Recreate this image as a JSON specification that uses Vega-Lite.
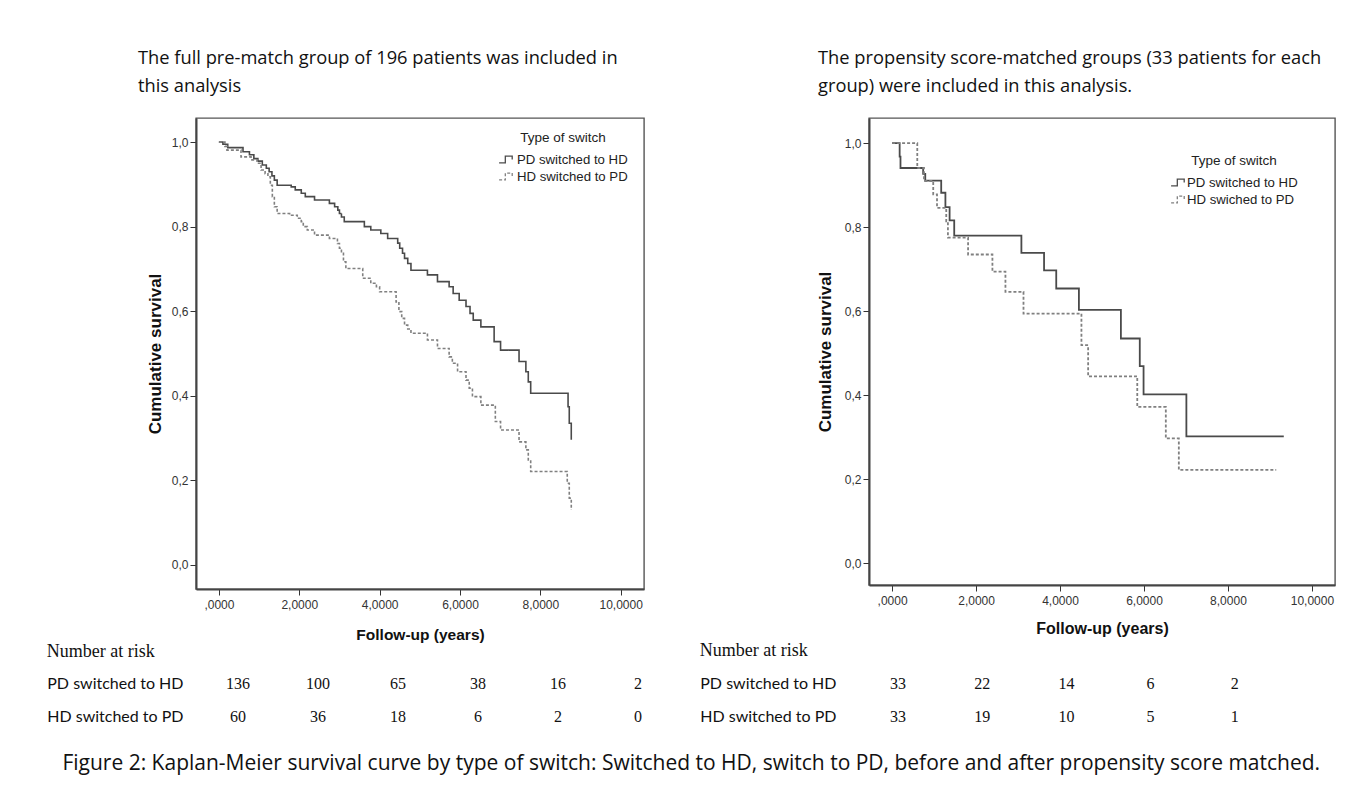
{
  "$schema": "https://vega.github.io/schema/vega-lite/v6.json",
  "background": "white",
  "padding": {"left": 46, "top": 48, "right": 10, "bottom": 10},
  "datasets": {
    "km_left": [
      {"group": "PD switched to HD", "t": 0, "s": 1.0},
      {"group": "PD switched to HD", "t": 0.10, "s": 0.995},
      {"group": "PD switched to HD", "t": 0.22, "s": 0.987},
      {"group": "PD switched to HD", "t": 0.60, "s": 0.977},
      {"group": "PD switched to HD", "t": 0.76, "s": 0.970},
      {"group": "PD switched to HD", "t": 0.87, "s": 0.961},
      {"group": "PD switched to HD", "t": 0.97, "s": 0.955},
      {"group": "PD switched to HD", "t": 1.08, "s": 0.946},
      {"group": "PD switched to HD", "t": 1.18, "s": 0.938},
      {"group": "PD switched to HD", "t": 1.25, "s": 0.930},
      {"group": "PD switched to HD", "t": 1.32, "s": 0.920},
      {"group": "PD switched to HD", "t": 1.38, "s": 0.910},
      {"group": "PD switched to HD", "t": 1.45, "s": 0.898},
      {"group": "PD switched to HD", "t": 1.80, "s": 0.894},
      {"group": "PD switched to HD", "t": 1.90, "s": 0.887},
      {"group": "PD switched to HD", "t": 2.05, "s": 0.879},
      {"group": "PD switched to HD", "t": 2.15, "s": 0.871},
      {"group": "PD switched to HD", "t": 2.38, "s": 0.863},
      {"group": "PD switched to HD", "t": 2.75, "s": 0.855},
      {"group": "PD switched to HD", "t": 2.88, "s": 0.847},
      {"group": "PD switched to HD", "t": 2.96, "s": 0.839},
      {"group": "PD switched to HD", "t": 3.00, "s": 0.831},
      {"group": "PD switched to HD", "t": 3.05, "s": 0.823},
      {"group": "PD switched to HD", "t": 3.12, "s": 0.812},
      {"group": "PD switched to HD", "t": 3.62, "s": 0.800},
      {"group": "PD switched to HD", "t": 3.78, "s": 0.792},
      {"group": "PD switched to HD", "t": 4.03, "s": 0.784},
      {"group": "PD switched to HD", "t": 4.20, "s": 0.772},
      {"group": "PD switched to HD", "t": 4.45, "s": 0.761},
      {"group": "PD switched to HD", "t": 4.50, "s": 0.749},
      {"group": "PD switched to HD", "t": 4.57, "s": 0.737},
      {"group": "PD switched to HD", "t": 4.62, "s": 0.725},
      {"group": "PD switched to HD", "t": 4.70, "s": 0.713},
      {"group": "PD switched to HD", "t": 4.78, "s": 0.697},
      {"group": "PD switched to HD", "t": 5.19, "s": 0.686},
      {"group": "PD switched to HD", "t": 5.44, "s": 0.670},
      {"group": "PD switched to HD", "t": 5.73, "s": 0.658},
      {"group": "PD switched to HD", "t": 5.83, "s": 0.642},
      {"group": "PD switched to HD", "t": 5.98, "s": 0.626},
      {"group": "PD switched to HD", "t": 6.15, "s": 0.611},
      {"group": "PD switched to HD", "t": 6.25, "s": 0.595},
      {"group": "PD switched to HD", "t": 6.33, "s": 0.579},
      {"group": "PD switched to HD", "t": 6.52, "s": 0.563},
      {"group": "PD switched to HD", "t": 6.85, "s": 0.528},
      {"group": "PD switched to HD", "t": 7.01, "s": 0.508},
      {"group": "PD switched to HD", "t": 7.47, "s": 0.481},
      {"group": "PD switched to HD", "t": 7.64, "s": 0.457},
      {"group": "PD switched to HD", "t": 7.70, "s": 0.433},
      {"group": "PD switched to HD", "t": 7.76, "s": 0.406},
      {"group": "PD switched to HD", "t": 8.69, "s": 0.374},
      {"group": "PD switched to HD", "t": 8.72, "s": 0.335},
      {"group": "PD switched to HD", "t": 8.77, "s": 0.296},
      {"group": "HD switched to PD", "t": 0, "s": 1.0},
      {"group": "HD switched to PD", "t": 0.15, "s": 0.990},
      {"group": "HD switched to PD", "t": 0.20, "s": 0.981},
      {"group": "HD switched to PD", "t": 0.55, "s": 0.965},
      {"group": "HD switched to PD", "t": 0.80, "s": 0.958},
      {"group": "HD switched to PD", "t": 0.95, "s": 0.950},
      {"group": "HD switched to PD", "t": 1.05, "s": 0.934},
      {"group": "HD switched to PD", "t": 1.15, "s": 0.925},
      {"group": "HD switched to PD", "t": 1.22, "s": 0.918},
      {"group": "HD switched to PD", "t": 1.28, "s": 0.898},
      {"group": "HD switched to PD", "t": 1.33, "s": 0.871},
      {"group": "HD switched to PD", "t": 1.38, "s": 0.847},
      {"group": "HD switched to PD", "t": 1.45, "s": 0.831},
      {"group": "HD switched to PD", "t": 1.76, "s": 0.827},
      {"group": "HD switched to PD", "t": 1.95, "s": 0.820},
      {"group": "HD switched to PD", "t": 2.05, "s": 0.812},
      {"group": "HD switched to PD", "t": 2.10, "s": 0.800},
      {"group": "HD switched to PD", "t": 2.20, "s": 0.792},
      {"group": "HD switched to PD", "t": 2.38, "s": 0.780},
      {"group": "HD switched to PD", "t": 2.75, "s": 0.772},
      {"group": "HD switched to PD", "t": 2.95, "s": 0.760},
      {"group": "HD switched to PD", "t": 3.00, "s": 0.749},
      {"group": "HD switched to PD", "t": 3.05, "s": 0.737},
      {"group": "HD switched to PD", "t": 3.10, "s": 0.717},
      {"group": "HD switched to PD", "t": 3.16, "s": 0.701},
      {"group": "HD switched to PD", "t": 3.58, "s": 0.678},
      {"group": "HD switched to PD", "t": 3.78, "s": 0.666},
      {"group": "HD switched to PD", "t": 3.92, "s": 0.658},
      {"group": "HD switched to PD", "t": 4.00, "s": 0.646},
      {"group": "HD switched to PD", "t": 4.41, "s": 0.622},
      {"group": "HD switched to PD", "t": 4.48, "s": 0.599},
      {"group": "HD switched to PD", "t": 4.55, "s": 0.583},
      {"group": "HD switched to PD", "t": 4.62, "s": 0.567},
      {"group": "HD switched to PD", "t": 4.70, "s": 0.558},
      {"group": "HD switched to PD", "t": 4.78, "s": 0.548},
      {"group": "HD switched to PD", "t": 5.19, "s": 0.532},
      {"group": "HD switched to PD", "t": 5.44, "s": 0.512},
      {"group": "HD switched to PD", "t": 5.73, "s": 0.492},
      {"group": "HD switched to PD", "t": 5.81, "s": 0.477},
      {"group": "HD switched to PD", "t": 5.94, "s": 0.457},
      {"group": "HD switched to PD", "t": 6.15, "s": 0.437},
      {"group": "HD switched to PD", "t": 6.23, "s": 0.418},
      {"group": "HD switched to PD", "t": 6.31, "s": 0.398},
      {"group": "HD switched to PD", "t": 6.52, "s": 0.378},
      {"group": "HD switched to PD", "t": 6.88, "s": 0.339},
      {"group": "HD switched to PD", "t": 7.01, "s": 0.319},
      {"group": "HD switched to PD", "t": 7.47, "s": 0.291},
      {"group": "HD switched to PD", "t": 7.64, "s": 0.272},
      {"group": "HD switched to PD", "t": 7.70, "s": 0.248},
      {"group": "HD switched to PD", "t": 7.76, "s": 0.221},
      {"group": "HD switched to PD", "t": 8.67, "s": 0.193},
      {"group": "HD switched to PD", "t": 8.72, "s": 0.158},
      {"group": "HD switched to PD", "t": 8.77, "s": 0.130}
    ],
    "km_right": [
      {"group": "PD switched to HD", "t": 0, "s": 1.0},
      {"group": "PD switched to HD", "t": 0.18, "s": 0.968},
      {"group": "PD switched to HD", "t": 0.20, "s": 0.941},
      {"group": "PD switched to HD", "t": 0.74, "s": 0.927},
      {"group": "PD switched to HD", "t": 0.79, "s": 0.911},
      {"group": "PD switched to HD", "t": 1.17, "s": 0.882},
      {"group": "PD switched to HD", "t": 1.27, "s": 0.848},
      {"group": "PD switched to HD", "t": 1.37, "s": 0.816},
      {"group": "PD switched to HD", "t": 1.48, "s": 0.780},
      {"group": "PD switched to HD", "t": 3.08, "s": 0.739},
      {"group": "PD switched to HD", "t": 3.62, "s": 0.697},
      {"group": "PD switched to HD", "t": 3.91, "s": 0.654},
      {"group": "PD switched to HD", "t": 4.45, "s": 0.603},
      {"group": "PD switched to HD", "t": 5.45, "s": 0.535},
      {"group": "PD switched to HD", "t": 5.90, "s": 0.469},
      {"group": "PD switched to HD", "t": 5.99, "s": 0.402},
      {"group": "PD switched to HD", "t": 7.01, "s": 0.302},
      {"group": "PD switched to HD", "t": 9.33, "s": 0.302},
      {"group": "HD switched to PD", "t": 0, "s": 1.0},
      {"group": "HD switched to PD", "t": 0.60, "s": 0.941},
      {"group": "HD switched to PD", "t": 0.76, "s": 0.910},
      {"group": "HD switched to PD", "t": 0.98, "s": 0.878},
      {"group": "HD switched to PD", "t": 1.07, "s": 0.846},
      {"group": "HD switched to PD", "t": 1.29, "s": 0.814},
      {"group": "HD switched to PD", "t": 1.33, "s": 0.775},
      {"group": "HD switched to PD", "t": 1.81, "s": 0.735},
      {"group": "HD switched to PD", "t": 2.39, "s": 0.694},
      {"group": "HD switched to PD", "t": 2.70, "s": 0.646},
      {"group": "HD switched to PD", "t": 3.13, "s": 0.594},
      {"group": "HD switched to PD", "t": 4.51, "s": 0.519},
      {"group": "HD switched to PD", "t": 4.67, "s": 0.445},
      {"group": "HD switched to PD", "t": 5.84, "s": 0.372},
      {"group": "HD switched to PD", "t": 6.52, "s": 0.297},
      {"group": "HD switched to PD", "t": 6.83, "s": 0.222},
      {"group": "HD switched to PD", "t": 9.15, "s": 0.222}
    ],
    "risk_left": [
      {"group": "PD switched to HD", "t": 0, "n": 136},
      {"group": "PD switched to HD", "t": 2, "n": 100},
      {"group": "PD switched to HD", "t": 4, "n": 65},
      {"group": "PD switched to HD", "t": 6, "n": 38},
      {"group": "PD switched to HD", "t": 8, "n": 16},
      {"group": "PD switched to HD", "t": 10, "n": 2},
      {"group": "HD switched to PD", "t": 0, "n": 60},
      {"group": "HD switched to PD", "t": 2, "n": 36},
      {"group": "HD switched to PD", "t": 4, "n": 18},
      {"group": "HD switched to PD", "t": 6, "n": 6},
      {"group": "HD switched to PD", "t": 8, "n": 2},
      {"group": "HD switched to PD", "t": 10, "n": 0}
    ],
    "risk_right": [
      {"group": "PD switched to HD", "t": 0, "n": 33},
      {"group": "PD switched to HD", "t": 2, "n": 22},
      {"group": "PD switched to HD", "t": 4, "n": 14},
      {"group": "PD switched to HD", "t": 6, "n": 6},
      {"group": "PD switched to HD", "t": 8, "n": 2},
      {"group": "HD switched to PD", "t": 0, "n": 33},
      {"group": "HD switched to PD", "t": 2, "n": 19},
      {"group": "HD switched to PD", "t": 4, "n": 10},
      {"group": "HD switched to PD", "t": 6, "n": 5},
      {"group": "HD switched to PD", "t": 8, "n": 1}
    ]
  },
  "hconcat": [
    {
      "spacing": -1,
      "vconcat": [
        {
          "width": 448,
          "height": 471,
          "title": {"text": ["The full pre-match group of 196 patients was included in", "this analysis"], "anchor": "start", "frame": "group", "dx": -58, "offset": 22, "font": "Open Sans", "fontSize": 18.3, "fontWeight": "normal", "color": "#111", "lineHeight": 28},
          "data": {"name": "km_left"},
          "mark": {"type": "line", "interpolate": "step-after", "strokeWidth": 1.6},
          "encoding": {
            "x": {"field": "t", "type": "quantitative", "scale": {"domain": [-0.57, 10.58], "nice": false, "zero": false},
              "axis": {"values": [0, 2, 4, 6, 8, 10], "title": "Follow-up (years)", "labelExpr": "datum.value == 0 ? ',0000' : replace(format(datum.value, '.4f'), '.', ',')", "grid": false, "labelFont": "Liberation Sans", "labelFontSize": 12, "labelColor": "#333", "tickColor": "#333", "tickSize": 6, "domainColor": "#444", "domainWidth": 2, "titleFont": "Liberation Sans", "titleFontSize": 15.5, "titleFontWeight": "bold", "titleColor": "#111", "titlePadding": 17, "labelPadding": 4}},
            "y": {"field": "s", "type": "quantitative", "scale": {"domain": [-0.057, 1.057], "nice": false, "zero": false},
              "axis": {"values": [0, 0.2, 0.4, 0.6, 0.8, 1.0], "title": "Cumulative survival", "labelExpr": "replace(format(datum.value, '.1f'), '.', ',')", "grid": false, "labelFont": "Liberation Sans", "labelFontSize": 12, "labelColor": "#333", "tickColor": "#333", "tickSize": 6, "domainColor": "#444", "domainWidth": 2, "titleFont": "Liberation Sans", "titleFontSize": 17, "titleFontWeight": "bold", "titleColor": "#111", "titlePadding": 7, "labelPadding": 2}},
            "color": {"field": "group", "type": "nominal", "scale": {"domain": ["PD switched to HD", "HD switched to PD"], "range": ["#4a4a4a", "#808080"]},
              "legend": {"title": "Type of switch", "orient": "none", "legendX": 302, "legendY": 13, "titleAnchor": "middle", "titleFont": "Liberation Sans", "titleFontSize": 13.5, "titleFontWeight": "normal", "titleColor": "#222", "titlePadding": 7, "labelFont": "Liberation Sans", "labelFontSize": 13.2, "labelColor": "#222", "symbolType": "M-1,0.5H-0.1V-0.5H0.9V0", "symbolSize": 190, "symbolStrokeWidth": 1.3, "symbolFillColor": "transparent", "rowPadding": 2, "labelOffset": 3}},
            "strokeDash": {"field": "group", "type": "nominal", "scale": {"domain": ["PD switched to HD", "HD switched to PD"], "range": [[1, 0], [3, 2]]}, "legend": {"title": "Type of switch"}}
          }
        },
        {
          "width": 448,
          "height": 66,
          "view": {"stroke": null},
          "title": {"text": "Number at risk", "anchor": "start", "frame": "bounds", "offset": 6, "font": "Liberation Serif", "fontSize": 18, "fontWeight": "normal", "color": "#111"},
          "data": {"name": "risk_left"},
          "mark": {"type": "text", "font": "Liberation Serif", "fontSize": 16, "color": "#111"},
          "encoding": {
            "x": {"field": "t", "type": "quantitative", "scale": {"domain": [-1.05, 10.15], "nice": false, "zero": false}, "axis": null},
            "y": {"field": "group", "type": "nominal", "sort": ["PD switched to HD", "HD switched to PD"], "scale": {"type": "point", "padding": 0.5},
              "axis": {"title": null, "ticks": false, "domain": false, "labelFont": "Lato", "labelFontSize": 16, "labelColor": "#111", "labelPadding": 13}},
            "text": {"field": "n", "type": "quantitative"}
          }
        }
      ]
    },
    {
      "spacing": 5,
      "vconcat": [
        {
          "width": 466,
          "height": 467,
          "title": {"text": ["The propensity score-matched groups (33 patients for each", "group) were included in this analysis."], "anchor": "start", "frame": "group", "dx": -51, "offset": 22, "font": "Open Sans", "fontSize": 18.3, "fontWeight": "normal", "color": "#111", "lineHeight": 28},
          "data": {"name": "km_right"},
          "mark": {"type": "line", "interpolate": "step-after", "strokeWidth": 1.8},
          "encoding": {
            "x": {"field": "t", "type": "quantitative", "scale": {"domain": [-0.55, 10.55], "nice": false, "zero": false},
              "axis": {"values": [0, 2, 4, 6, 8, 10], "title": "Follow-up (years)", "labelExpr": "datum.value == 0 ? ',0000' : replace(format(datum.value, '.4f'), '.', ',')", "grid": false, "labelFont": "Liberation Sans", "labelFontSize": 12, "labelColor": "#333", "tickColor": "#333", "tickSize": 6, "domainColor": "#444", "domainWidth": 2, "titleFont": "Liberation Sans", "titleFontSize": 16, "titleFontWeight": "bold", "titleColor": "#111", "titlePadding": 14, "labelPadding": 4}},
            "y": {"field": "s", "type": "quantitative", "scale": {"domain": [-0.052, 1.06], "nice": false, "zero": false},
              "axis": {"values": [0, 0.2, 0.4, 0.6, 0.8, 1.0], "title": "Cumulative survival", "labelExpr": "replace(format(datum.value, '.1f'), '.', ',')", "grid": false, "labelFont": "Liberation Sans", "labelFontSize": 12, "labelColor": "#333", "tickColor": "#333", "tickSize": 6, "domainColor": "#444", "domainWidth": 2, "titleFont": "Liberation Sans", "titleFontSize": 17, "titleFontWeight": "bold", "titleColor": "#111", "titlePadding": 10, "labelPadding": 2}},
            "color": {"field": "group", "type": "nominal", "scale": {"domain": ["PD switched to HD", "HD switched to PD"], "range": ["#4a4a4a", "#808080"]},
              "legend": {"title": "Type of switch", "orient": "none", "legendX": 301, "legendY": 36, "titleAnchor": "middle", "titleFont": "Liberation Sans", "titleFontSize": 13.5, "titleFontWeight": "normal", "titleColor": "#222", "titlePadding": 7, "labelFont": "Liberation Sans", "labelFontSize": 13.2, "labelColor": "#222", "symbolType": "M-1,0.5H-0.1V-0.5H0.9V0", "symbolSize": 190, "symbolStrokeWidth": 1.3, "symbolFillColor": "transparent", "rowPadding": 2, "labelOffset": 1, "labelExpr": "datum.label == 'HD switched to PD' ? 'HD swiched to PD' : datum.label"}},
            "strokeDash": {"field": "group", "type": "nominal", "scale": {"domain": ["PD switched to HD", "HD switched to PD"], "range": [[1, 0], [3, 2]]}, "legend": {"title": "Type of switch", "labelExpr": "datum.label == 'HD switched to PD' ? 'HD swiched to PD' : datum.label"}}
          }
        },
        {
          "width": 466,
          "height": 66,
          "view": {"stroke": null},
          "title": {"text": "Number at risk", "anchor": "start", "frame": "bounds", "offset": 7, "font": "Liberation Serif", "fontSize": 18, "fontWeight": "normal", "color": "#111"},
          "data": {"name": "risk_right"},
          "mark": {"type": "text", "font": "Liberation Serif", "fontSize": 16, "color": "#111"},
          "encoding": {
            "x": {"field": "t", "type": "quantitative", "scale": {"domain": [-0.689, 10.38], "nice": false, "zero": false}, "axis": null},
            "y": {"field": "group", "type": "nominal", "sort": ["PD switched to HD", "HD switched to PD"], "scale": {"type": "point", "padding": 0.5},
              "axis": {"title": null, "ticks": false, "domain": false, "labelFont": "Lato", "labelFontSize": 16, "labelColor": "#111", "labelPadding": 33}},
            "text": {"field": "n", "type": "quantitative"}
          }
        }
      ]
    }
  ],
  "spacing": 54,
  "resolve": {"scale": {"color": "independent", "strokeDash": "independent", "x": "independent", "y": "independent"}},
  "title": {"text": "Figure 2: Kaplan-Meier survival curve by type of switch: Switched to HD, switch to PD, before and after propensity score matched.", "orient": "bottom", "anchor": "middle", "offset": 20, "font": "Open Sans", "fontSize": 21, "fontWeight": "normal", "color": "#111"},
  "config": {
    "view": {"stroke": "#555", "strokeWidth": 1.4}
  }
}
